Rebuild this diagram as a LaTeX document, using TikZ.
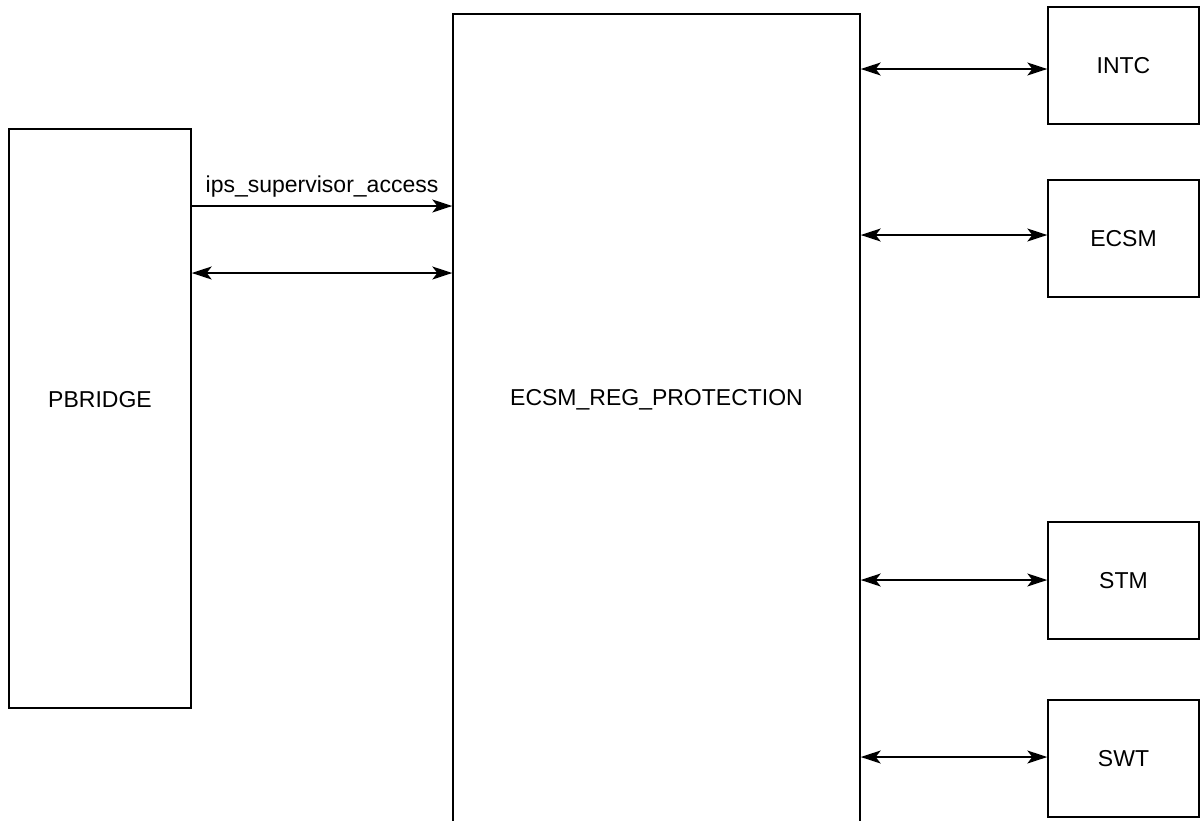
\documentclass[tikz,border=0pt]{standalone}
\usepackage{fontspec}
\setmainfont{Liberation Sans}
\usetikzlibrary{arrows.meta}
\begin{document}
\begin{tikzpicture}[x=1pt,y=-1pt,
  blk/.style={draw=black, line width=1.4pt, rectangle, inner sep=0pt, font=\fontsize{23}{26}\selectfont},
  tip/.tip={Stealth[length=20pt,width=13pt,inset=5pt]},
  uni/.style={line width=1.4pt, -tip},
  bi/.style={line width=1.4pt, tip-tip},
  lbl/.style={font=\fontsize{23}{26}\selectfont, inner sep=1pt}]
\useasboundingbox (0,0) rectangle (1201,820);
% blocks
\node[blk, minimum width=182pt, minimum height=579pt] (pb) at (100,418.5) {};
\node[font=\fontsize{23}{26}\selectfont] (pbt) at (100,400) {PBRIDGE};
\node[blk, minimum width=407pt, minimum height=836pt] (reg) at (656.5,432) {};
\node[font=\fontsize{23}{26}\selectfont] (regt) at (656.5,400) {ECSM\_REG\_PROTECTION};
\node[blk, minimum width=151pt, minimum height=117pt] (intc) at (1123.5,65.5) {INTC};
\node[blk, minimum width=151pt, minimum height=117pt] (ecsm) at (1123.5,238.5) {ECSM};
\node[blk, minimum width=151pt, minimum height=117pt] (stm) at (1123.5,580.5) {STM};
\node[blk, minimum width=151pt, minimum height=117pt] (swt) at (1123.5,758.5) {SWT};
% left connectors
\draw[uni] (pb.east |- 0,206) -- node[lbl, above=7pt] (acc) {ips\_supervisor\_access} (reg.west |- 0,206);
\draw[bi] (pb.east |- 0,273) -- (reg.west |- 0,273);
% right connectors
\draw[bi] (reg.east |- 0,69) -- (intc.west |- 0,69);
\draw[bi] (reg.east |- 0,235) -- (ecsm.west |- 0,235);
\draw[bi] (reg.east |- 0,580) -- (stm.west |- 0,580);
\draw[bi] (reg.east |- 0,757) -- (swt.west |- 0,757);
\end{tikzpicture}
\end{document}
